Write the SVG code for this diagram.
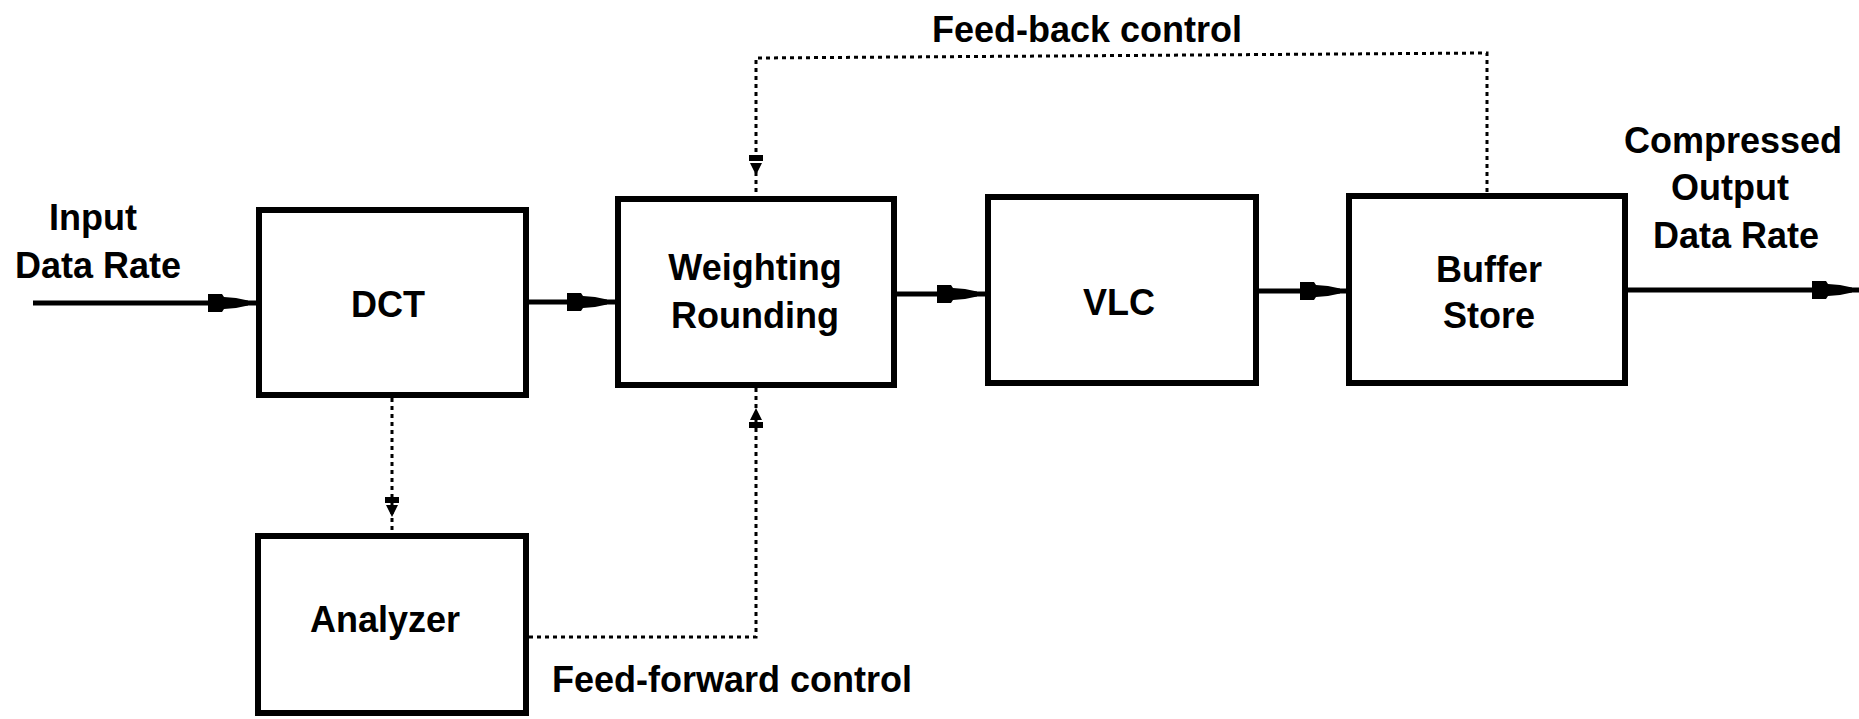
<svg xmlns="http://www.w3.org/2000/svg" xmlns:xlink="http://www.w3.org/1999/xlink" width="1859" height="719" viewBox="0 0 1859 719">
<style>
.box{fill:#fff;stroke:#000;stroke-width:6}
.lbl{font-family:"Liberation Sans",Arial,sans-serif;font-weight:bold;font-size:36px;fill:#000;text-anchor:middle}
.st{text-anchor:start}
.flow{stroke:#000;stroke-width:5;fill:none}
.dot{stroke:#000;stroke-width:3;fill:none;stroke-dasharray:4 4}
.ah{fill:#000}
</style>
<defs>
<path id="ahr" d="M0,-9 H14 L16,-6 L28,-5 L40,-2.5 V2.5 L28,5 L16,6 L14,9 H0 Z"/>
<path id="ahd" d="M-7,0 H7 V6 H-7 Z M-6,8 H6 L0,20 Z"/>
</defs>
<rect width="1859" height="719" fill="#fff"/>
<g id="connectors">
<line class="flow" x1="33" y1="303" x2="257" y2="303"/>
<use class="ah" xlink:href="#ahr" transform="translate(208,303)"/>
<line class="flow" x1="526" y1="302" x2="618" y2="302"/>
<use class="ah" xlink:href="#ahr" transform="translate(567,302)"/>
<line class="flow" x1="894" y1="294" x2="988" y2="294"/>
<use class="ah" xlink:href="#ahr" transform="translate(937,294)"/>
<line class="flow" x1="1256" y1="291" x2="1349" y2="291"/>
<use class="ah" xlink:href="#ahr" transform="translate(1300,291)"/>
<line class="flow" x1="1625" y1="290" x2="1859" y2="290"/>
<use class="ah" xlink:href="#ahr" transform="translate(1812,290)"/>
<polyline class="dot" points="1487,192 1487,53 756,58 756,194"/>
<use class="ah" xlink:href="#ahd" transform="translate(756,155)"/>
<line class="dot" x1="392" y1="398" x2="392" y2="533"/>
<use class="ah" xlink:href="#ahd" transform="translate(392,497)"/>
<polyline class="dot" points="529,637 756,637 756,388"/>
<use class="ah" xlink:href="#ahd" transform="translate(756,428) scale(1,-1)"/>
<text class="lbl" x="1087" y="42">Feed-back control</text>
<text class="lbl st" x="552" y="692">Feed-forward control</text>
</g>
<g id="input-label">
<text class="lbl" x="93" y="230">Input</text>
<text class="lbl" x="98" y="278">Data Rate</text>
</g>
<g id="dct">
<rect class="box" x="259" y="210" width="267" height="185"/>
<text class="lbl" x="388" y="317">DCT</text>
</g>
<g id="weighting">
<rect class="box" x="618" y="199" width="276" height="186"/>
<text class="lbl" x="755" y="280">Weighting</text>
<text class="lbl" x="755" y="328">Rounding</text>
</g>
<g id="vlc">
<rect class="box" x="988" y="197" width="268" height="186"/>
<text class="lbl" x="1119" y="315">VLC</text>
</g>
<g id="buffer">
<rect class="box" x="1349" y="196" width="276" height="187"/>
<text class="lbl" x="1489" y="282">Buffer</text>
<text class="lbl" x="1489" y="328">Store</text>
</g>
<g id="analyzer">
<rect class="box" x="258" y="536" width="268" height="177"/>
<text class="lbl" x="385" y="632">Analyzer</text>
</g>
<g id="output-label">
<text class="lbl" x="1733" y="153">Compressed</text>
<text class="lbl" x="1730" y="200">Output</text>
<text class="lbl" x="1736" y="248">Data Rate</text>
</g>
</svg>
